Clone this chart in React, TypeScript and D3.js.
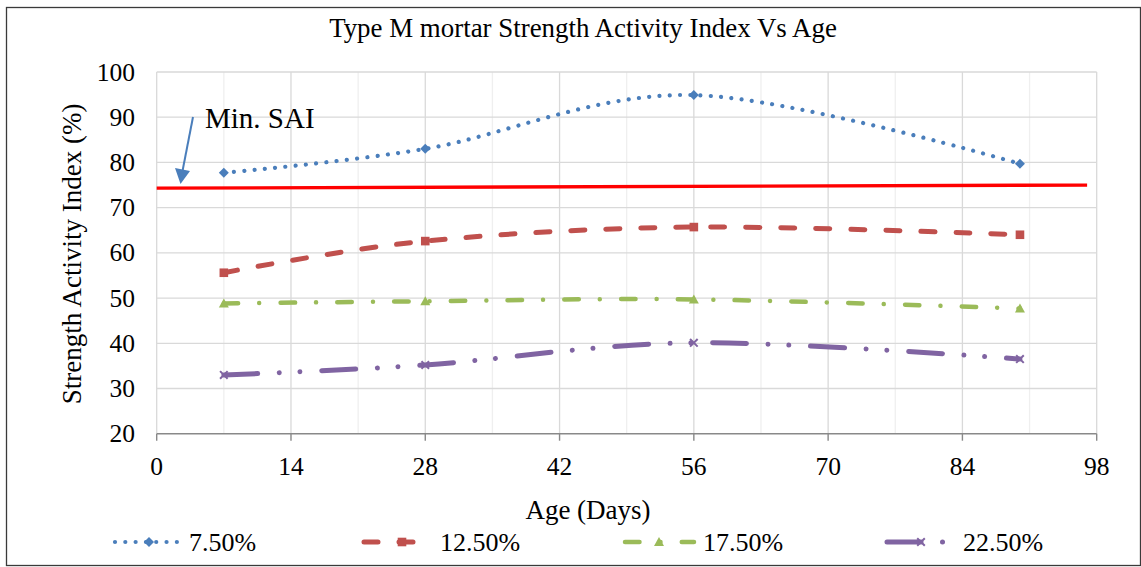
import React from "react";
import * as d3 from "d3";

// ---- data ----
const ages = [7, 28, 56, 90];
const seriesNames = ["7.50%", "12.50%", "17.50%", "22.50%"];
const sai75 = [77.7, 83.0, 94.9, 79.7];
const sai125 = [55.6, 62.6, 65.7, 64.0];
const sai175 = [48.8, 49.3, 49.7, 47.7];
const sai225 = [33.0, 35.2, 40.1, 36.5];
const minSaiAges = [0, 97];
const minSaiValues = [74.3, 75.0];
const xTicks = [0, 14, 28, 42, 56, 70, 84, 98];
const xMinorTicks = [7, 21, 35, 49, 63, 77, 91];
const yTicks = [20, 30, 40, 50, 60, 70, 80, 90, 100];
const titleText = "Type M mortar Strength Activity Index Vs Age";
const xTitle = "Age (Days)";
const yTitle = "Strength Activity Index (%)";
const noteText = "Min. SAI";

// ---- styles ----
const FONT = "'Liberation Serif', 'Times New Roman', serif";
const styles = [
  { color: "#4A7EBB", width: 4.2, dash: "0.01 10.3", marker: "diamond" },
  { color: "#C0504D", width: 5, dash: "14 21", marker: "square" },
  { color: "#9BBB59", width: 4.5, dash: "14.5 21 0.01 21.25", marker: "triangle" },
  { color: "#8064A2", width: 5, dash: "34 21.5 0.01 20.7 0.01 21.8", marker: "x" },
];
const seriesValues = [sai75, sai125, sai175, sai225];

// legend layout (pixels)
const legendSym = [
  [115, 180, 149, 189],
  [364, 417, 402, 440],
  [625, 694, 659, 703],
  [887, 946, 921, 963],
];

const W = 1141;
const H = 567;
const x = d3.scaleLinear().domain([0, 98]).range([156.7, 1096.7]);
const y = d3.scaleLinear().domain([20, 100]).range([433.7, 72]);

function Marker({ kind, cx, cy, color }: { kind: string; cx: number; cy: number; color: string }) {
  if (kind === "diamond") {
    const r = 5;
    return <path d={`M${cx},${cy - r}L${cx + r},${cy}L${cx},${cy + r}L${cx - r},${cy}Z`} fill={color} />;
  }
  if (kind === "square") {
    const r = 4.3;
    return <rect x={cx - r} y={cy - r} width={2 * r} height={2 * r} fill={color} />;
  }
  if (kind === "triangle") {
    const r = 5;
    return <path d={`M${cx},${cy - r}L${cx + r},${cy + r * 0.8}L${cx - r},${cy + r * 0.8}Z`} fill={color} />;
  }
  const r = 3.8;
  return (
    <path
      d={`M${cx - r},${cy - r}L${cx + r},${cy + r}M${cx + r},${cy - r}L${cx - r},${cy + r}`}
      stroke={color}
      strokeWidth={2}
      fill="none"
    />
  );
}

export default function App() {
  const line = d3
    .line<number>()
    .x((_, i) => x(ages[i]))
    .y((v) => y(v))
    .curve(d3.curveCatmullRom.alpha(0));

  const minLine = d3
    .line<number>()
    .x((_, i) => x(minSaiAges[i]))
    .y((v) => y(v));

  const legendY = 542;

  return (
    <div style={{ position: "absolute", left: 0, top: 0 }}>
      <svg width={W} height={H} style={{ display: "block", fontFamily: FONT }}>
        <rect x={0} y={0} width={W} height={H} fill="#fff" />
        <rect x={6.5} y={7.5} width={1134} height={558} fill="none" stroke="#3a3a3a" strokeWidth={1.3} />

        {/* title */}
        <text x={583} y={37} textAnchor="middle" fontSize={26.9} fill="#000">
          {titleText}
        </text>

        {/* gridlines */}
        {xMinorTicks.map((t) => (
          <line key={"mx" + t} x1={x(t)} x2={x(t)} y1={y(100)} y2={y(20)} stroke="#efefef" strokeWidth={1.3} />
        ))}
        {xTicks.map((t) => (
          <line key={"gx" + t} x1={x(t)} x2={x(t)} y1={y(100)} y2={y(20)} stroke="#d9d9d9" strokeWidth={1.3} />
        ))}
        {yTicks.slice(1).map((t) => (
          <line key={"gy" + t} x1={x(0)} x2={x(98)} y1={y(t)} y2={y(t)} stroke="#d9d9d9" strokeWidth={1.3} />
        ))}

        {/* x axis */}
        <line x1={x(0)} x2={x(98)} y1={y(20)} y2={y(20)} stroke="#898989" strokeWidth={1.4} />
        {xTicks.map((t) => (
          <g key={"xt" + t}>
            <line x1={x(t)} x2={x(t)} y1={y(20)} y2={y(20) + 7} stroke="#898989" strokeWidth={1.4} />
            <text x={x(t)} y={475} textAnchor="middle" fontSize={25.5} fill="#000">
              {t}
            </text>
          </g>
        ))}
        {yTicks.map((t) => (
          <text key={"yt" + t} x={135} y={y(t) + 8.5} textAnchor="end" fontSize={25.5} fill="#000">
            {t}
          </text>
        ))}

        {/* axis titles */}
        <text x={588} y={519} textAnchor="middle" fontSize={27} fill="#000">
          {xTitle}
        </text>
        <text
          transform={`translate(81, ${(y(20) + y(100)) / 2 + 1}) rotate(-90)`}
          textAnchor="middle"
          fontSize={27}
          fill="#000"
        >
          {yTitle}
        </text>

        {/* min SAI line */}
        <path d={minLine(minSaiValues) || ""} stroke="#FF0000" strokeWidth={3.3} fill="none" />

        {/* series */}
        {seriesValues.map((vals, si) => {
          const s = styles[si];
          return (
            <g key={"s" + si}>
              <path
                d={line(vals) || ""}
                fill="none"
                stroke={s.color}
                strokeWidth={s.width}
                strokeDasharray={s.dash}
                strokeLinecap="round"
              />
              {vals.map((v, i) => (
                <Marker key={i} kind={s.marker} cx={x(ages[i])} cy={y(v)} color={s.color} />
              ))}
            </g>
          );
        })}

        {/* annotation */}
        <line x1={193} y1={117} x2={182.5} y2={171} stroke="#4A7EBB" strokeWidth={2} />
        <path d="M175,168 L190,171 L180.5,184 Z" fill="#4A7EBB" />
        <text x={205} y={128} fontSize={29} fill="#000">
          {noteText}
        </text>

        {/* legend */}
        {seriesNames.map((name, si) => {
          const s = styles[si];
          const [x0, x1, mc, tx] = legendSym[si];
          return (
            <g key={"lg" + si}>
              <line
                x1={x0}
                x2={x1}
                y1={legendY}
                y2={legendY}
                stroke={s.color}
                strokeWidth={s.width}
                strokeDasharray={s.dash}
                strokeLinecap="round"
              />
              <Marker kind={s.marker} cx={mc} cy={legendY} color={s.color} />
              <text x={tx} y={legendY + 8.5} fontSize={26} fill="#000">
                {name}
              </text>
            </g>
          );
        })}
      </svg>
    </div>
  );
}
